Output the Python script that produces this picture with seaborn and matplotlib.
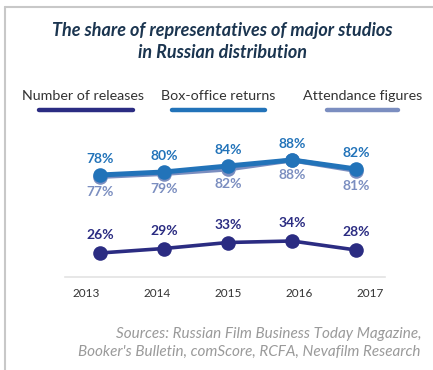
import matplotlib
matplotlib.use("Agg")
import matplotlib.pyplot as plt
from matplotlib.lines import Line2D
import seaborn as sns
import pandas as pd

years = ["2013", "2014", "2015", "2016", "2017"]
releases = [26, 29, 33, 34, 28]
box_office = [78, 80, 84, 88, 82]
attendance = [77, 79, 82, 88, 81]

series_names = ["Number of releases", "Box-office returns", "Attendance figures"]
colors = {"Number of releases": "#2b2c82",
          "Box-office returns": "#2273b9",
          "Attendance figures": "#7b8ec0"}

sns.set_theme(style="white")
plt.rcParams['font.family'] = ['Lato', 'DejaVu Sans']

df = pd.DataFrame({
    "idx": list(range(len(years))) * 3,
    "year": years * 3,
    "value": releases + box_office + attendance,
    "series": [series_names[0]] * 5 + [series_names[1]] * 5 + [series_names[2]] * 5,
})

W, H = 433, 370
fig = plt.figure(figsize=(W / 100, H / 100), dpi=100)

# frame lines (left and top border)
fig.add_artist(Line2D([4.5 / W, 4.5 / W], [0, 1 - 6.5 / H], color="#c8c8c8", lw=1.5))
fig.add_artist(Line2D([4.5 / W, 1], [1 - 6.5 / H, 1 - 6.5 / H], color="#c8c8c8", lw=1.5))

left, right = 65, 385
bottom_px, top_px = 277, 120
ax = fig.add_axes([left / W, 1 - bottom_px / H, (right - left) / W, (bottom_px - top_px) / H])

lw_map = {"Number of releases": 2.6, "Box-office returns": 3.6, "Attendance figures": 3.6}
order = ["Attendance figures", "Number of releases", "Box-office returns"]
for name in order:
    sub = df[df.series == name]
    sns.lineplot(data=sub, x="idx", y="value", ax=ax, color=colors[name],
                 lw=lw_map[name], marker="o", markersize=10.5,
                 markeredgewidth=0, legend=False, zorder=3 if name != "Attendance figures" else 2)

# value labels
for i, v in enumerate(releases):
    ax.annotate(f"{v}%", (i, v), xytext=(0, 8.5), textcoords="offset points",
                ha="center", va="bottom", fontsize=10, fontweight="bold",
                color=colors["Number of releases"])
for i, v in enumerate(box_office):
    ax.annotate(f"{v}%", (i, v), xytext=(0, 7.5), textcoords="offset points",
                ha="center", va="bottom", fontsize=10, fontweight="bold",
                color=colors["Box-office returns"])
for i, v in enumerate(attendance):
    ax.annotate(f"{v}%", (i, v), xytext=(0, -6.5), textcoords="offset points",
                ha="center", va="top", fontsize=10, fontweight="bold",
                color=colors["Attendance figures"])

ax.set_xlim(-0.547, 4.453)
ax.set_ylim(10, 10 + (bottom_px - top_px) / 1.5)
ax.set_xticks([])
ax.set_yticks([])
ax.set_xlabel("")
ax.set_ylabel("")
for s in ["top", "right", "left"]:
    ax.spines[s].set_visible(False)
ax.spines["bottom"].set_color("#e3e3e3")
ax.spines["bottom"].set_linewidth(1.2)

# tick labels axis
ax2 = ax.twiny()
ax2.set_xlim(-0.296, 4.211)
ax2.xaxis.set_ticks_position("bottom")
ax2.xaxis.set_label_position("bottom")
ax2.set_xticks(range(len(years)))
ax2.set_xticklabels(years, fontsize=8.5, color="#333333")
ax2.tick_params(axis="x", length=0, pad=8)
for s in ax2.spines.values():
    s.set_visible(False)

# title
fig.text(222 / W, 1 - 41.5 / H, "The share of representatives of major studios\nin Russian distribution",
         ha="center", va="center", fontsize=13, fontweight="bold", style="italic",
         color="#1b3550", linespacing=1.3)

# legend
legend_items = [
    ("Number of releases", 83, 39, 133),
    ("Box-office returns", 218, 172, 265),
    ("Attendance figures", 363, 327, 398),
]
for name, cx, x0, x1 in legend_items:
    fig.text(cx / W, 1 - 96 / H, name, ha="center", va="center", fontsize=10.3, color="#333333")
    fig.add_artist(Line2D([x0 / W, x1 / W], [1 - 110 / H, 1 - 110 / H], color=colors[name],
                          lw=3.2, solid_capstyle="round"))

# sources
fig.text(421 / W, 1 - 343 / H,
         "Sources: Russian Film Business Today Magazine,\nBooker's Bulletin, comScore, RCFA, Nevafilm Research",
         ha="right", va="center", fontsize=11, style="italic", color="#9a9a9a", linespacing=1.35)

fig.savefig("out.png", dpi=100)
